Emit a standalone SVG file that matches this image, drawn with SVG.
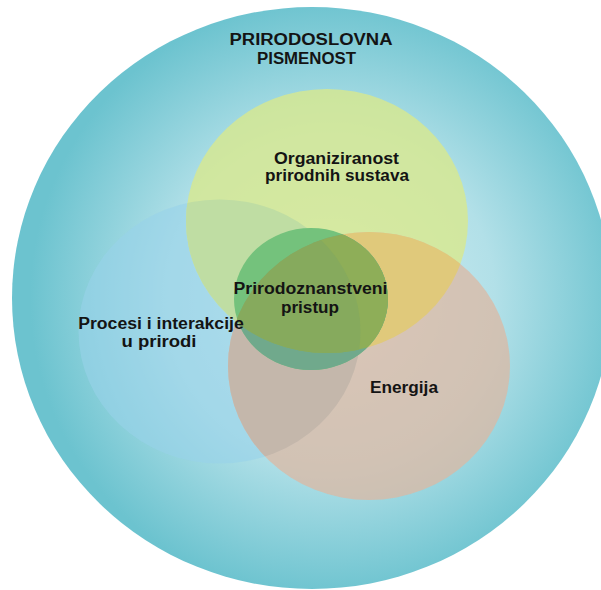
<svg xmlns="http://www.w3.org/2000/svg" width="601" height="590" viewBox="0 0 601 590">
  <defs>
    <radialGradient id="bgGrad" cx="330" cy="298" r="300" gradientUnits="userSpaceOnUse">
      <stop offset="0" stop-color="#d6eff3"/>
      <stop offset="0.55" stop-color="#b2e0e8"/>
      <stop offset="1" stop-color="#6cc3cf"/>
    </radialGradient>
    <clipPath id="cG"><ellipse cx="327" cy="221" rx="141" ry="132"/></clipPath>
    <clipPath id="cB"><ellipse cx="219.5" cy="331.5" rx="141" ry="132"/></clipPath>
    <clipPath id="cT"><ellipse cx="369" cy="366" rx="141" ry="134"/></clipPath>
    <clipPath id="cC"><ellipse cx="311" cy="299" rx="77" ry="71"/></clipPath>
    <style>
      .lbl { font-family: "Liberation Sans", Arial, Helvetica, sans-serif; font-weight: bold; font-size: 16px; fill: #141414; text-anchor: middle; }
      .blue { fill: #97d2ea; fill-opacity: 0.6; }
      .green { fill: #d8e88d; fill-opacity: 0.8; }
      .tan { fill: #dcb8a3; fill-opacity: 0.75; }
    </style>
  </defs>

  <rect x="0" y="0" width="601" height="590" fill="#ffffff"/>

  <g id="pismenost">
    <ellipse cx="312" cy="298" rx="300" ry="291" fill="url(#bgGrad)"/>
  </g>

  <g id="procesi">
    <ellipse class="blue" cx="219.5" cy="331.5" rx="141" ry="132"/>
  </g>

  <g id="organiziranost">
    <ellipse class="green" cx="327" cy="221" rx="141" ry="132"/>
  </g>

  <g id="energija">
    <ellipse class="tan" cx="369" cy="366" rx="141" ry="134"/>
  </g>

  <g id="overlaps">
    <g clip-path="url(#cB)">
      <ellipse cx="327" cy="221" rx="141" ry="132" fill="#bfdda3"/>
      <ellipse cx="369" cy="366" rx="141" ry="134" fill="#c4b7ab"/>
    </g>
    <g clip-path="url(#cG)">
      <ellipse cx="369" cy="366" rx="141" ry="134" fill="#e0c97b"/>
    </g>
  </g>

  <g id="pristup">
    <ellipse cx="311" cy="299" rx="77" ry="71" fill="#74c27c"/>
    <g clip-path="url(#cC)">
      <ellipse cx="369" cy="366" rx="141" ry="134" fill="#70a98c"/>
      <g clip-path="url(#cT)">
        <ellipse cx="327" cy="221" rx="141" ry="132" fill="#8eae58"/>
        <g clip-path="url(#cG)">
          <ellipse cx="219.5" cy="331.5" rx="141" ry="132" fill="#86aa5d"/>
        </g>
      </g>
    </g>
  </g>

  <g id="connectors"/>

  <g id="labels">
    <text id="lbl-pismenost-1" class="lbl" x="311" y="45" textLength="163" lengthAdjust="spacingAndGlyphs">PRIRODOSLOVNA</text>
    <text id="lbl-pismenost-2" class="lbl" x="306.5" y="63.5" textLength="99" lengthAdjust="spacingAndGlyphs">PISMENOST</text>
    <text id="lbl-org-1" class="lbl" x="336.5" y="163.5" textLength="125" lengthAdjust="spacingAndGlyphs">Organiziranost</text>
    <text id="lbl-org-2" class="lbl" x="337" y="181" textLength="144" lengthAdjust="spacingAndGlyphs">prirodnih sustava</text>
    <text id="lbl-pristup-1" class="lbl" x="310.5" y="294" textLength="154" lengthAdjust="spacingAndGlyphs">Prirodoznanstveni</text>
    <text id="lbl-pristup-2" class="lbl" x="310" y="313" textLength="58" lengthAdjust="spacingAndGlyphs">pristup</text>
    <text id="lbl-procesi-1" class="lbl" x="161" y="329" textLength="165.5" lengthAdjust="spacingAndGlyphs">Procesi i interakcije</text>
    <text id="lbl-procesi-2" class="lbl" x="159" y="346.5" textLength="75" lengthAdjust="spacingAndGlyphs">u prirodi</text>
    <text id="lbl-energija" class="lbl" x="404" y="393" textLength="68" lengthAdjust="spacingAndGlyphs">Energija</text>
  </g>
</svg>
